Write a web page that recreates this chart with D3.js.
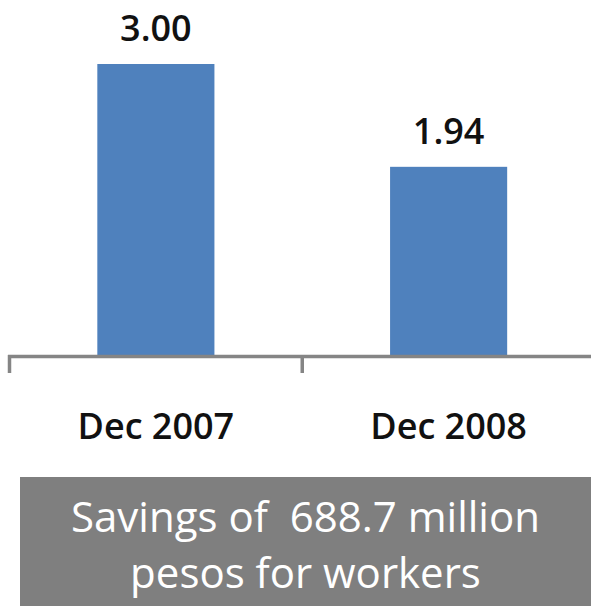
<!DOCTYPE html>
<html>
<head>
<meta charset="utf-8">
<script src="https://cdn.jsdelivr.net/npm/d3@7"></script>
<style>
  html, body { margin: 0; padding: 0; background: #fff; }
  svg { display: block; }
  text { white-space: pre; }
</style>
</head>
<body>
<svg id="chart" width="591" height="606"></svg>
<script>
const categories = ["Dec 2007", "Dec 2008"];
const values = [3.00, 1.94];
const valueLabels = ["3.00", "1.94"];
const noteLines = ["Savings of  688.7 million", "pesos for workers"];

const W = 591, H = 606;
const svg = d3.select("#chart");
const labelFont = "'Open Sans', Lato, sans-serif";
const noteFont = "'Open Sans', Lato, sans-serif";

const baseY = 355;
const y = d3.scaleLinear().domain([0, 3]).range([baseY, 64]);

const xAxisScale = d3.scaleBand().domain(categories).range([9.5, 595]).padding(0);
const xBar = d3.scaleBand().domain(categories).range([9.5, 595]).paddingInner(0.6).paddingOuter(0.3);

// bars
svg.append("g").selectAll("rect")
  .data(categories)
  .join("rect")
  .attr("x", d => xBar(d))
  .attr("width", xBar.bandwidth())
  .attr("y", (d, i) => y(values[i]))
  .attr("height", (d, i) => baseY - y(values[i]))
  .attr("fill", "#4F81BD");

// axis line and ticks
const axisColor = "#858585";
svg.append("line")
  .attr("x1", xAxisScale.range()[0] - 1.5).attr("x2", W)
  .attr("y1", baseY + 1.5).attr("y2", baseY + 1.5)
  .attr("stroke", axisColor).attr("stroke-width", 3.5);
const tickXs = categories.map(c => xAxisScale(c)).concat([xAxisScale.range()[1]]);
svg.append("g").selectAll("line")
  .data(tickXs)
  .join("line")
  .attr("x1", d => d).attr("x2", d => d)
  .attr("y1", baseY).attr("y2", 373)
  .attr("stroke", axisColor).attr("stroke-width", 3.5);

// value labels
svg.append("g").selectAll("text")
  .data(categories)
  .join("text")
  .attr("x", d => xBar(d) + xBar.bandwidth() / 2)
  .attr("y", (d, i) => y(values[i]) - 23)
  .attr("text-anchor", "middle")
  .attr("font-family", labelFont)
  .attr("font-size", 36)
  .attr("font-weight", 600)
  .attr("fill", "#111")
  .text((d, i) => valueLabels[i]);

// category labels
svg.append("g").selectAll("text")
  .data(categories)
  .join("text")
  .attr("x", d => xBar(d) + xBar.bandwidth() / 2)
  .attr("y", 439)
  .attr("text-anchor", "middle")
  .attr("font-family", labelFont)
  .attr("font-size", 36)
  .attr("font-weight", 600)
  .attr("fill", "#111")
  .text(d => d);

// note box
svg.append("rect")
  .attr("x", 20).attr("y", 477)
  .attr("width", W - 20).attr("height", H - 477)
  .attr("fill", "#7F7F7F");

svg.append("g").selectAll("text")
  .data(noteLines)
  .join("text")
  .attr("x", (20 + W) / 2)
  .attr("y", (d, i) => 532 + i * 56)
  .attr("text-anchor", "middle")
  .attr("font-family", noteFont)
  .attr("font-size", 42)
  .attr("fill", "#fff")
  .text(d => d);
</script>
</body>
</html>
